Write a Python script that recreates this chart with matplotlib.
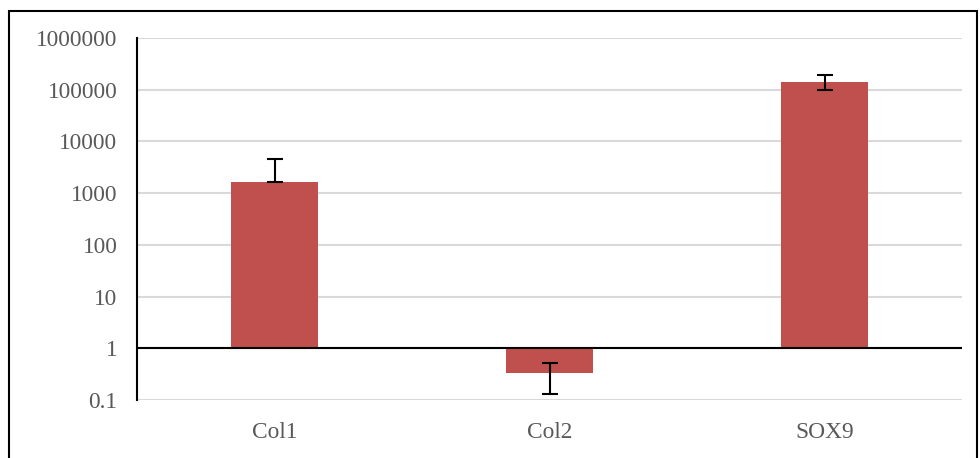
import numpy as np
import matplotlib
matplotlib.use("Agg")
import matplotlib.pyplot as plt
from matplotlib.patches import Rectangle

# Fold-change data (bars start at 1 on the log axis)
genes = ['Col1', 'Col2', 'SOX9']
fold = [1675, 0.333, 142600]
err_low = [0, 0.2, 42600]
err_high = [2975, 0.187, 49400]

yticks = [0.1, 1, 10, 100, 1000, 10000, 100000, 1000000]
ytick_labels = ['0.1', '1', '10', '100', '1000', '10000', '100000', '1000000']

plt.rcParams['font.family'] = ['Liberation Serif', 'DejaVu Serif']

fig = plt.figure(figsize=(9.8, 4.58), dpi=100)
ax = fig.add_axes([137/980, 1-400/458, 825/980, 362/458])

x = np.arange(len(genes))
fold = np.array(fold)
ax.bar(x, fold - 1, bottom=1, width=0.313, color='#c0504d', zorder=2)
ax.errorbar(x, fold, yerr=[err_low, err_high], fmt='none', ecolor='black',
            elinewidth=1.5, capsize=5.5, capthick=1.5, zorder=3)

ax.set_yscale('log')
ax.set_ylim(0.1, 1000000)
ax.set_xlim(-0.5, 2.5)
ax.set_yticks(yticks)
ax.set_yticklabels(ytick_labels)
ax.yaxis.set_minor_locator(matplotlib.ticker.NullLocator())
ax.set_xticks(x)
ax.set_xticklabels(genes)
ax.tick_params(axis='both', length=0, labelsize=16.8, labelcolor='#595959')
ax.tick_params(axis='y', pad=14)
ax.tick_params(axis='x', pad=16)

ax.grid(axis='y', color='#d9d9d9', lw=1.5, zorder=0)
ax.set_axisbelow(True)
for s in ['top', 'right', 'bottom']:
    ax.spines[s].set_visible(False)
ax.spines['left'].set_color('black')
ax.spines['left'].set_linewidth(1.5)
# horizontal axis crosses at 1
ax.axhline(1, color='black', lw=1.5, zorder=4)

# outer chart border
fig.patches.append(Rectangle((9/980, -0.1), 968/980, 1.1 - 11/458,
                             transform=fig.transFigure, fill=False,
                             edgecolor='black', lw=1.5))

fig.savefig('out.png', dpi=100)
